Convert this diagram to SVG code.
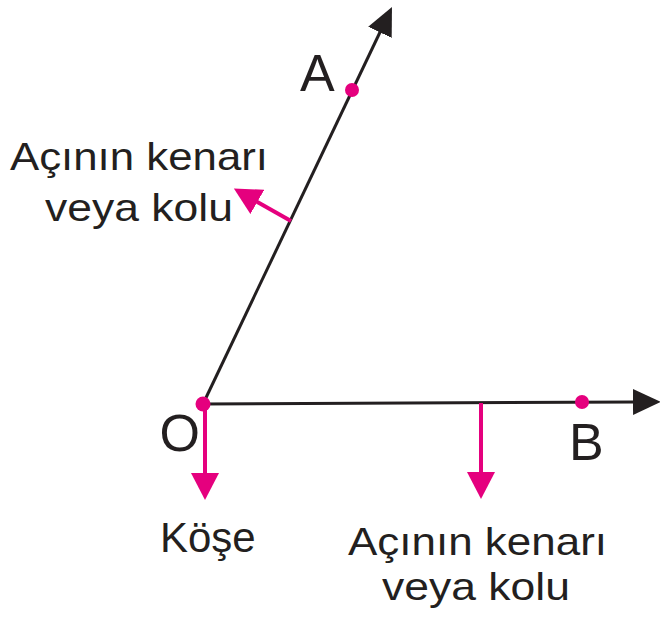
<svg xmlns="http://www.w3.org/2000/svg" width="660" height="618" viewBox="0 0 660 618">
<style>
.ray{stroke:#231f20;stroke-width:3;fill:none}
.ptr{stroke:#e5007e;stroke-width:4;fill:none}
.dot{fill:#e5007e}
.lbl{font-family:"Liberation Sans",Arial,sans-serif;fill:#231f20}
.big{font-size:52px}
.mid{font-size:39px}
</style>
<defs>
<marker id="ab" viewBox="-2 -14 28 28" markerWidth="28" markerHeight="28" refX="0" refY="0" orient="auto" markerUnits="userSpaceOnUse">
<path d="M-2,-13 L26,0 L-2,13 z" fill="#231f20"/>
</marker>
<marker id="ap" viewBox="-2 -14 28 28" markerWidth="28" markerHeight="28" refX="0" refY="0" orient="auto" markerUnits="userSpaceOnUse">
<path d="M-2,-14 L25,0 L-2,14 z" fill="#e5007e"/>
</marker>
</defs>
<g id="connectors">
<line class="ray" x1="203" y1="404" x2="380.8" y2="30.5" marker-end="url(#ab)"/>
<line class="ray" x1="203" y1="404" x2="635" y2="402" marker-end="url(#ab)"/>
<line class="ptr" x1="205" y1="404" x2="205" y2="475" marker-end="url(#ap)"/>
<line class="ptr" x1="481" y1="403" x2="481" y2="474" marker-end="url(#ap)"/>
<line class="ptr" x1="291" y1="221" x2="255.6" y2="200.9" marker-end="url(#ap)"/>
</g>
<g id="node-O">
<circle class="dot" cx="203" cy="404" r="7.5"/>
<text class="lbl big" x="159.5" y="451">O</text>
</g>
<g id="node-A">
<circle class="dot" cx="352" cy="90" r="7"/>
<text class="lbl big" x="300" y="91">A</text>
</g>
<g id="node-B">
<circle class="dot" cx="582" cy="402" r="7"/>
<text class="lbl big" x="569" y="460">B</text>
</g>
<g id="label-kose">
<text class="lbl" font-size="42" x="160" y="552">Köşe</text>
</g>
<g id="label-kenar-left">
<text class="lbl mid" x="10" y="170" textLength="258" lengthAdjust="spacingAndGlyphs">Açının kenarı</text>
<text class="lbl mid" x="45" y="221" textLength="188" lengthAdjust="spacingAndGlyphs">veya kolu</text>
</g>
<g id="label-kenar-bottom">
<text class="lbl mid" x="348" y="555" textLength="259" lengthAdjust="spacingAndGlyphs">Açının kenarı</text>
<text class="lbl mid" x="382" y="600" textLength="188" lengthAdjust="spacingAndGlyphs">veya kolu</text>
</g>
</svg>
